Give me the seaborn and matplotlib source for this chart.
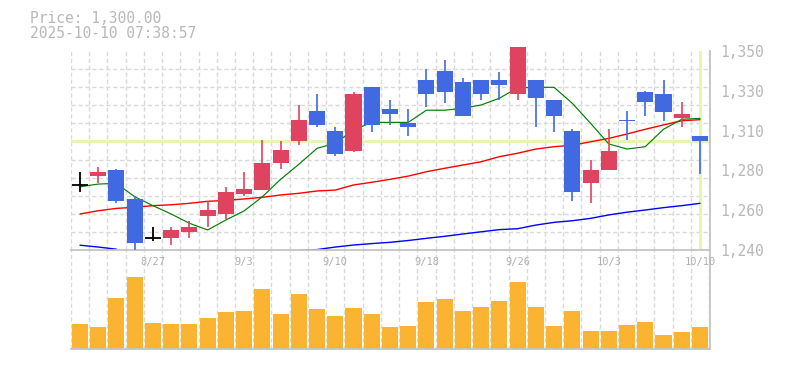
import numpy as np
import pandas as pd
import matplotlib
matplotlib.use("Agg")
import matplotlib.pyplot as plt
import seaborn as sns

# ---------------- data ----------------
dates = ["8/21", "8/22", "8/25", "8/26", "8/27", "8/28", "8/29", "9/1", "9/2", "9/3",
         "9/4", "9/5", "9/8", "9/9", "9/10", "9/11", "9/12", "9/16", "9/17", "9/18",
         "9/19", "9/22", "9/24", "9/25", "9/26", "9/29", "9/30", "10/1", "10/2", "10/3",
         "10/6", "10/7", "10/8", "10/9", "10/10"]
opens = [1276, 1281, 1284, 1268, 1247, 1247, 1250, 1259, 1260, 1271,
         1273, 1288, 1300, 1317, 1306, 1295, 1330, 1318, 1310, 1334,
         1339, 1333, 1334, 1334, 1326, 1334, 1323, 1306, 1277, 1284,
         1312, 1327, 1326, 1313, 1303]
highs = [1283, 1286, 1285, 1270, 1253, 1253, 1256, 1267, 1275, 1283,
         1301, 1300, 1320, 1326, 1308, 1327, 1330, 1323, 1318, 1340,
         1345, 1335, 1334, 1338, 1352, 1334, 1323, 1307, 1290, 1307,
         1317, 1328, 1334, 1322, 1303]
lows = [1272, 1277, 1266, 1240, 1245, 1243, 1247, 1253, 1257, 1270,
        1273, 1285, 1298, 1308, 1292, 1294, 1305, 1309, 1303, 1319,
        1321, 1314, 1323, 1323, 1323, 1308, 1305, 1267, 1266, 1284,
        1301, 1314, 1311, 1308, 1282]
closes = [1276, 1283, 1267, 1244, 1247, 1251, 1253, 1262, 1272, 1274,
          1288, 1295, 1312, 1309, 1293, 1326, 1309, 1315, 1308, 1326,
          1327, 1314, 1326, 1331, 1352, 1324, 1314, 1272, 1284, 1295,
          1311, 1322, 1316, 1315, 1300]
volume = [25, 22, 51, 72, 26, 25, 25, 31, 37, 38,
          60, 35, 55, 40, 33, 41, 35, 22, 23, 47,
          50, 38, 42, 48, 67, 42, 23, 38, 18, 18,
          24, 27, 14, 17, 22]
ma5 = [1275.0, 1276.5, 1276.9, 1269.5, 1264.6, 1260.0, 1254.9, 1251.2, 1256.7, 1261.7,
       1269.5, 1279.1, 1287.4, 1296.2, 1299.0, 1306.3, 1310.5, 1310.5, 1310.5, 1317.2,
       1317.2, 1318.3, 1320.1, 1323.8, 1329.6, 1329.8, 1329.8, 1321.0, 1310.0, 1298.6,
       1295.8, 1297.1, 1306.7, 1312.2, 1312.7]
ma25 = [1260.0, 1261.8, 1263.1, 1263.7, 1264.6, 1265.1, 1265.9, 1267.0, 1267.5, 1268.3,
        1269.2, 1270.5, 1271.4, 1272.7, 1273.2, 1276.0, 1277.5, 1279.1, 1280.9, 1283.3,
        1285.2, 1287.0, 1288.8, 1291.6, 1293.5, 1295.8, 1297.1, 1297.9, 1299.8, 1301.7,
        1304.1, 1306.7, 1309.1, 1311.4, 1312.0]
ma75 = [1242.8, 1241.8, 1240.6, np.nan, np.nan, np.nan, np.nan, np.nan, np.nan, np.nan,
        np.nan, np.nan, 1240.0, 1240.4, 1241.8, 1242.9, 1243.7, 1244.4, 1245.4, 1246.6,
        1247.7, 1249.0, 1250.2, 1251.4, 1251.9, 1253.9, 1255.4, 1256.3, 1257.6, 1259.5,
        1261.0, 1262.2, 1263.5, 1264.6, 1265.9]
xtick_dates = ["8/27", "9/3", "9/10", "9/18", "9/26", "10/3", "10/10"]
ytick_values = [1240, 1262, 1284, 1306, 1328, 1350]
ytick_labels = ["1,240", "1,260", "1,280", "1,310", "1,330", "1,350"]
title_lines = ["Price: 1,300.00", "2025-10-10 07:38:57"]

# ---------------- style ----------------
sns.set_theme(style="white")
plt.rcParams['font.family'] = ['DejaVu Sans Mono', 'DejaVu Sans']

RED = "#e0435f"
BLUE = "#4169e1"
VOLC = "#fbb432"
HILITE = "#e6f5b3"
GRIDC = "#d9d9d9"
SPINEC = "#c4c4c4"
TXTC = "#b8b8b8"

df = pd.DataFrame(dict(idx=np.arange(len(dates)), date=dates, open=opens, high=highs,
                       low=lows, close=closes, vol=volume,
                       ma5=ma5, ma25=ma25, ma75=ma75))

W, H = 785, 370
fig = plt.figure(figsize=(W / 100, H / 100), dpi=100)
left, right = 70.7, 710.0
p_top, p_bot = 50.7, 250.3
v_bot = 349.3
ax = fig.add_axes([left / W, 1 - p_bot / H, (right - left) / W, (p_bot - p_top) / H])
axv = fig.add_axes([left / W, 1 - v_bot / H, (right - left) / W, (v_bot - p_bot) / H])
ax.set_zorder(2)
axv.set_zorder(1)
ax.patch.set_alpha(0)

xlim = (-0.51, 34.55)
grid_kw = dict(color=GRIDC, lw=1.0, ls=(0, (3, 2)))

# ---------------- price panel ----------------
ax.axhline(closes[-1], color=HILITE, lw=2.3, zorder=1)
ax.axvline(df.idx.iloc[-1], color=HILITE, lw=2.3, zorder=1)

sns.lineplot(data=df, x="idx", y="ma25", color="#ff0000", lw=1.0, ax=ax, zorder=2)
sns.lineplot(data=df, x="idx", y="ma5", color="#008000", lw=0.85, ax=ax, zorder=2)
seg = df.ma75.isna().cumsum()
for _, part in df[df.ma75.notna()].groupby(seg[df.ma75.notna()]):
    sns.lineplot(data=part, x="idx", y="ma75", color="#0000ff", lw=1.0, ax=ax, zorder=2)

up = df[df.close > df.open]
dn = df[df.close < df.open]
dj = df[df.close == df.open]
for sub, col in [(up, RED), (dn, BLUE)]:
    ax.vlines(sub.idx, sub.low, sub.high, color=col, lw=1.2, zorder=3, clip_on=False)
    ax.bar(sub.idx, (sub.close - sub.open).abs(), bottom=np.minimum(sub.open, sub.close),
           width=0.88, color=col, linewidth=0, zorder=4, clip_on=False)
ax.vlines(dj.idx, dj.low, dj.high, color="black", lw=1.3, zorder=4)
ax.hlines(dj.close, dj.idx - 0.46, dj.idx + 0.46, color="black", lw=1.3, zorder=4)

ax.set_xlim(*xlim)
ax.set_ylim(1240, 1350)
ax.set_xticks([dates.index(d) for d in xtick_dates])
ax.set_xticklabels(xtick_dates, fontsize=7.5, color="#b0b0b0")
ax.set_xticks(np.arange(-0.5, len(dates) + 0.5, 1), minor=True)
ax.yaxis.tick_right()
ax.set_yticks(ytick_values)
ax.set_yticklabels(ytick_labels, fontsize=10.5, color=TXTC)
ax.set_yticks(np.arange(1240, 1351, 10), minor=True)
ax.grid(True, which="minor", **grid_kw)
ax.set_axisbelow(True)
ax.tick_params(axis="both", which="both", length=0)
ax.tick_params(axis="x", which="major", pad=4.5)
ax.tick_params(axis="y", which="major", pad=7)
ax.set_xlabel("")
ax.set_ylabel("")
for s in ["left", "top"]:
    ax.spines[s].set_visible(False)
for s in ["right", "bottom"]:
    ax.spines[s].set_color(SPINEC)
    ax.spines[s].set_linewidth(1.3)

# ---------------- volume panel ----------------
sns.barplot(data=df, x="idx", y="vol", native_scale=True, color=VOLC, saturation=1,
            width=0.88, errorbar=None, linewidth=0, ax=axv)
axv.set_xlim(*xlim)
axv.set_ylim(0, 99)
axv.set_xticks(np.arange(-0.5, len(dates) + 0.5, 1), minor=True)
axv.set_xticks([])
axv.set_yticks([])
axv.grid(True, which="minor", axis="x", **grid_kw)
axv.set_axisbelow(True)
axv.tick_params(axis="both", which="both", length=0)
axv.set_xlabel("")
axv.set_ylabel("")
for s in ["left", "top"]:
    axv.spines[s].set_visible(False)
for s in ["right", "bottom"]:
    axv.spines[s].set_color(SPINEC)
    axv.spines[s].set_linewidth(1.3)

# ---------------- header ----------------
fig.text(30 / W, 1 - 22.7 / H, title_lines[0], fontsize=10.5, color=TXTC, ha="left", va="baseline")
fig.text(30 / W, 1 - 37.7 / H, title_lines[1], fontsize=10.5, color=TXTC, ha="left", va="baseline")

fig.savefig("out.png", dpi=100, facecolor="white")
